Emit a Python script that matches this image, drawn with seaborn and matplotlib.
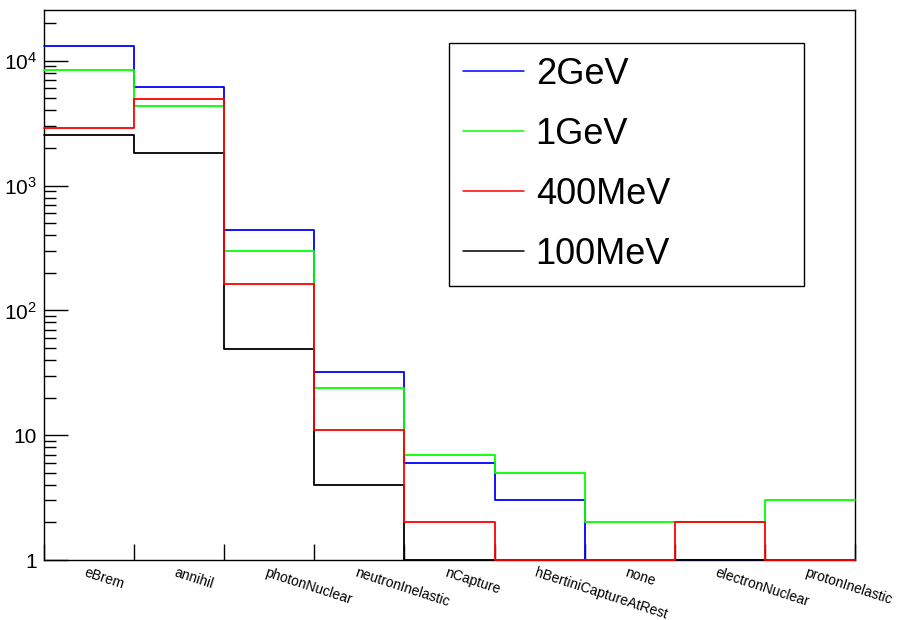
import numpy as np
import matplotlib
matplotlib.use("Agg")
import matplotlib.pyplot as plt
import seaborn as sns
from matplotlib.lines import Line2D
from matplotlib.ticker import FixedLocator, LogLocator, NullFormatter, FixedFormatter
import matplotlib.transforms as mtransforms

categories = ["eBrem", "annihil", "photonNuclear", "neutronInelastic", "nCapture",
              "hBertiniCaptureAtRest", "none", "electronNuclear", "protonInelastic"]
series_names = ["2GeV", "1GeV", "400MeV", "100MeV"]
vals_2gev = [13200, 6200, 437, 32, 6, 3, 0, 0, 0]
vals_1gev = [8500, 4300, 298, 24, 7, 5, 2, 2, 3]
vals_400mev = [2900, 4950, 163, 11, 2, 0, 0, 2, 0]
vals_100mev = [2520, 1820, 49, 4, 0, 0, 0, 0, 0]
colors = ["#0000ff", "#00ff00", "#ff0000", "#000000"]
ytick_vals = [1, 10, 100, 1000, 10000]
ytick_labels = ["1", "10", r"$10^{2}$", r"$10^{3}$", r"$10^{4}$"]

sns.set_style("white")
plt.rcParams["font.family"] = ["Liberation Sans", "DejaVu Sans"]
plt.rcParams["mathtext.fontset"] = "custom"
plt.rcParams["mathtext.rm"] = "Liberation Sans"
plt.rcParams["mathtext.it"] = "Liberation Sans:italic"
plt.rcParams["mathtext.bf"] = "Liberation Sans:bold"
for key in ["text.color", "axes.labelcolor", "xtick.color", "ytick.color"]:
    plt.rcParams[key] = "black"

W, H = 898, 620
fig = plt.figure(figsize=(W / 100, H / 100), dpi=100)
ax = fig.add_axes([44 / W, 1 - 560 / H, (855 - 44) / W, 550 / H])

YMIN, YMAX = 1, 2.55e4
idx = np.arange(len(categories))
all_vals = [vals_2gev, vals_1gev, vals_400mev, vals_100mev]
# draw order: 2GeV, 1GeV, 100MeV, 400MeV (red on top as in reference)
order = [0, 1, 3, 2]
for k in order:
    shown = np.clip(np.asarray(all_vals[k], float), YMIN, None)
    sns.histplot(x=idx, weights=shown, discrete=True, element="step", fill=False,
                 color=colors[k], linewidth=1.3, ax=ax, zorder=3, clip_on=False)

ax.set_yscale("log")
ax.set_ylim(YMIN, YMAX)
ax.set_xlim(-0.5, len(categories) - 0.5)
ax.set_xlabel("")
ax.set_ylabel("")

for s in ax.spines.values():
    s.set_color("black")
    s.set_linewidth(1.0)

# y axis ticks
ax.yaxis.set_major_locator(FixedLocator(ytick_vals))
ax.yaxis.set_major_formatter(FixedFormatter(ytick_labels))
ax.yaxis.set_minor_locator(LogLocator(base=10, subs=np.arange(2, 10)))
ax.yaxis.set_minor_formatter(NullFormatter())
ax.tick_params(axis="y", which="major", direction="in", length=17.3, width=1,
               labelsize=15, pad=5, left=True, right=False, color="black")
ax.tick_params(axis="y", which="minor", direction="in", length=8.6, width=1,
               left=True, right=False, color="black")

# x axis ticks: edges as minor ticks, labels at centers
ax.set_xticks(idx)
ax.set_xticklabels(categories, rotation=-18, ha="left", va="top",
                   rotation_mode="anchor")
ax.set_xticks(np.arange(-0.5, len(categories), 1.0), minor=True)
ax.tick_params(axis="x", which="major", length=0, labelsize=10, pad=4)
ax.tick_params(axis="x", which="minor", direction="in", length=11.5, width=1,
               bottom=True, top=False, color="black")
offset = mtransforms.ScaledTranslation(-2 / 100, 0, fig.dpi_scale_trans)
for lab in ax.get_xticklabels():
    lab.set_transform(lab.get_transform() + offset)

# legend
handles = [Line2D([0], [0], color=c, lw=1.1) for c in colors]
x0 = (449 - 44) / 811
x1 = (804 - 44) / 811
y0 = (560 - 285) / 550
y1 = (560 - 44) / 550
leg = ax.legend(handles, series_names, loc="center", mode="expand",
                bbox_to_anchor=(x0, y0, x1 - x0, y1 - y0), bbox_transform=ax.transAxes,
                fontsize=26, frameon=True, fancybox=False, framealpha=1,
                edgecolor="black", handlelength=1.69, handletextpad=0.33,
                borderpad=0.38, labelspacing=0.69, borderaxespad=0)
leg.get_frame().set_linewidth(1.0)

fig.savefig("out.png", dpi=100)
